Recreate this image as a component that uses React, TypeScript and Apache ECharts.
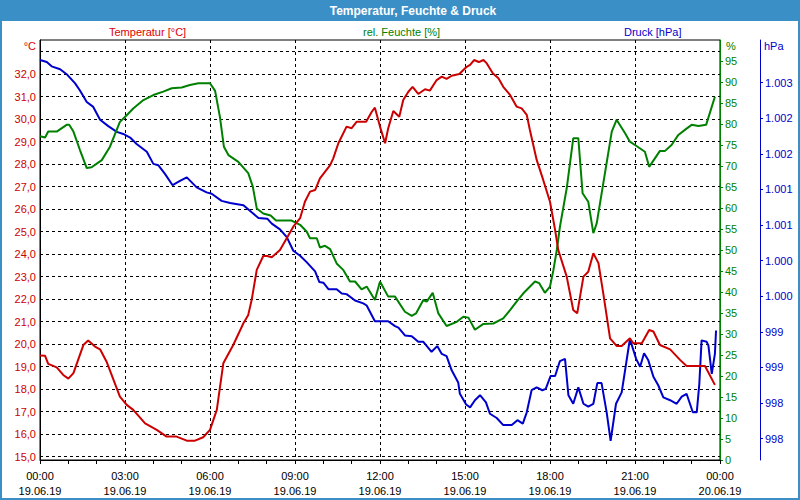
import React, { useEffect, useRef } from "react";
import * as echarts from "echarts";

// Time in hours since 19.06.19 00:00
const tempTimes = [0, 0.18, 0.29, 0.59, 0.82, 1.0, 1.18, 1.53, 1.7, 1.94, 2.12, 2.35, 2.82, 3.06, 3.29, 3.71, 4.12, 4.47, 4.82, 5.18, 5.47, 5.76, 6.0, 6.24, 6.47, 6.82, 7.18, 7.35, 7.47, 7.65, 7.88, 8.02, 8.18, 8.47, 8.94, 9.18, 9.35, 9.53, 9.71, 9.88, 10.24, 10.35, 10.53, 10.82, 11.0, 11.18, 11.51, 11.71, 11.82, 12.0, 12.18, 12.29, 12.47, 12.68, 12.82, 13.0, 13.15, 13.35, 13.59, 13.76, 14.0, 14.18, 14.35, 14.53, 14.8, 15.06, 15.18, 15.32, 15.49, 15.65, 15.77, 15.98, 16.18, 16.35, 16.59, 16.82, 17.0, 17.18, 17.29, 17.53, 17.76, 18.0, 18.18, 18.29, 18.59, 18.82, 18.96, 19.18, 19.35, 19.53, 19.71, 19.88, 20.12, 20.35, 20.53, 20.82, 20.94, 21.24, 21.5, 21.65, 21.88, 22.24, 22.59, 22.82, 23.47, 23.82];
const tempValues = [19.5, 19.48, 19.12, 18.97, 18.63, 18.47, 18.71, 19.96, 20.16, 19.89, 19.77, 19.22, 17.67, 17.3, 17.08, 16.48, 16.19, 15.89, 15.89, 15.71, 15.71, 15.86, 16.19, 17.08, 19.15, 19.96, 20.93, 21.3, 21.96, 23.3, 23.92, 23.92, 23.86, 24.19, 25.22, 25.6, 26.33, 26.78, 26.85, 27.37, 27.96, 28.26, 28.93, 29.67, 29.6, 29.89, 29.89, 30.33, 30.51, 29.67, 28.93, 29.6, 30.36, 30.11, 30.85, 31.22, 31.44, 31.12, 31.33, 31.27, 31.74, 31.89, 31.79, 31.93, 32.01, 32.33, 32.41, 32.63, 32.54, 32.63, 32.48, 32.04, 31.82, 31.44, 31.08, 30.56, 30.48, 30.19, 29.52, 28.19, 27.3, 26.33, 25.08, 24.19, 23.0, 21.52, 21.37, 23.0, 23.22, 24.04, 23.6, 22.26, 20.26, 19.92, 19.92, 20.26, 20.04, 20.04, 20.63, 20.56, 19.96, 19.77, 19.3, 19.03, 19.03, 18.19];

const humTimes = [0, 0.18, 0.29, 0.59, 0.94, 1.03, 1.18, 1.41, 1.65, 1.82, 2.18, 2.47, 2.82, 3.06, 3.29, 3.65, 4.0, 4.35, 4.65, 5.0, 5.29, 5.59, 6.0, 6.18, 6.35, 6.49, 6.65, 7.0, 7.35, 7.51, 7.65, 7.88, 8.14, 8.33, 8.88, 9.18, 9.41, 9.53, 9.77, 9.88, 10.06, 10.24, 10.47, 10.71, 10.94, 11.12, 11.35, 11.53, 11.82, 12.0, 12.29, 12.53, 12.88, 13.12, 13.27, 13.53, 13.65, 13.86, 14.06, 14.35, 14.71, 14.94, 15.12, 15.35, 15.65, 16.0, 16.35, 16.59, 16.82, 17.06, 17.47, 17.62, 17.82, 18.0, 18.12, 18.24, 18.35, 18.59, 18.82, 19.0, 19.15, 19.35, 19.53, 19.65, 20.18, 20.35, 20.65, 20.82, 21.0, 21.35, 21.5, 21.88, 22.06, 22.29, 22.53, 22.76, 23.0, 23.24, 23.51, 23.82];
const humValues = [77.1, 76.8, 78.2, 78.2, 79.8, 79.8, 78.2, 73.8, 69.5, 69.7, 71.4, 74.6, 80.5, 82.1, 83.7, 85.7, 86.9, 87.7, 88.5, 88.7, 89.3, 89.7, 89.7, 87.9, 81.7, 74.6, 72.6, 71.0, 68.3, 65.1, 59.9, 58.7, 58.2, 57.0, 57.0, 56.0, 54.4, 52.8, 52.8, 50.6, 51.0, 50.2, 46.8, 45.2, 42.5, 42.5, 40.6, 41.3, 38.1, 42.5, 38.9, 38.9, 35.3, 34.3, 34.9, 38.1, 37.7, 39.8, 34.9, 31.9, 32.9, 34.1, 33.9, 31.0, 32.4, 32.5, 33.7, 35.7, 37.7, 39.7, 42.5, 42.1, 39.8, 41.3, 45.2, 50.0, 55.5, 64.7, 76.6, 76.6, 63.5, 61.5, 54.0, 56.4, 78.2, 81.0, 77.8, 75.8, 75.0, 73.4, 69.8, 73.6, 73.6, 75.0, 77.4, 78.6, 79.8, 79.5, 79.8, 86.5];

const presTimes = [0, 0.24, 0.41, 0.71, 0.94, 1.24, 1.41, 1.65, 1.88, 2.12, 2.41, 2.71, 2.94, 3.18, 3.41, 3.77, 4.0, 4.18, 4.41, 4.68, 4.94, 5.18, 5.53, 5.88, 6.06, 6.41, 6.71, 7.18, 7.47, 7.71, 8.02, 8.18, 8.47, 8.71, 8.94, 9.18, 9.41, 9.71, 9.86, 10.0, 10.18, 10.47, 10.65, 10.82, 11.12, 11.41, 11.53, 11.82, 12.29, 12.53, 12.65, 12.88, 13.12, 13.35, 13.53, 13.82, 14.02, 14.18, 14.35, 14.53, 14.76, 14.82, 15.04, 15.18, 15.35, 15.53, 15.74, 15.88, 16.12, 16.35, 16.65, 16.85, 17.04, 17.18, 17.35, 17.53, 17.73, 17.85, 18.02, 18.18, 18.35, 18.53, 18.65, 18.82, 19.0, 19.18, 19.35, 19.53, 19.67, 19.82, 20.0, 20.14, 20.33, 20.53, 20.82, 21.04, 21.18, 21.32, 21.47, 21.65, 21.82, 22.0, 22.24, 22.47, 22.65, 22.82, 23.04, 23.18, 23.27, 23.35, 23.53, 23.59, 23.71, 23.82, 23.86];
const presValues = [1003.32, 1003.29, 1003.23, 1003.19, 1003.12, 1002.99, 1002.89, 1002.73, 1002.66, 1002.48, 1002.39, 1002.31, 1002.28, 1002.23, 1002.14, 1002.03, 1001.86, 1001.84, 1001.72, 1001.56, 1001.62, 1001.67, 1001.53, 1001.46, 1001.44, 1001.34, 1001.31, 1001.28, 1001.18, 1001.1, 1001.09, 1001.02, 1000.94, 1000.83, 1000.64, 1000.57, 1000.48, 1000.35, 1000.2, 1000.19, 1000.1, 1000.1, 1000.04, 1000.03, 999.94, 999.9, 999.87, 999.65, 999.65, 999.58, 999.56, 999.45, 999.44, 999.36, 999.36, 999.22, 999.3, 999.19, 999.16, 998.96, 998.79, 998.63, 998.48, 998.44, 998.54, 998.61, 998.51, 998.35, 998.29, 998.19, 998.19, 998.26, 998.21, 998.37, 998.68, 998.72, 998.68, 998.7, 998.88, 998.88, 999.09, 999.12, 998.61, 998.49, 998.72, 998.49, 998.45, 998.49, 998.78, 998.78, 998.37, 997.97, 998.49, 998.65, 999.4, 999.12, 999.01, 999.2, 999.1, 998.87, 998.75, 998.58, 998.54, 998.49, 998.59, 998.63, 998.37, 998.37, 998.77, 999.38, 999.36, 999.31, 998.91, 999.19, 999.52];

const tempTicks = [15, 16, 17, 18, 19, 20, 21, 22, 23, 24, 25, 26, 27, 28, 29, 30, 31, 32, 33];
const tempLabels = [15, 16, 17, 18, 19, 20, 21, 22, 23, 24, 25, 26, 27, 28, 29, 30, 31, 32];
const presTicks = [998, 998.5, 999, 999.5, 1000, 1000.5, 1001, 1001.5, 1002, 1002.5, 1003];

const titleText = "Temperatur, Feuchte & Druck";
const tempName = "Temperatur [°C]";
const humName = "rel. Feuchte [%]";
const presName = "Druck [hPa]";

const RED = "#cc0000";
const GREEN = "#008000";
const BLUE = "#0000cc";
const FRAME = "#3b8fc7";
const FONT = "Liberation Sans";

const zip = (t: number[], v: number[]) => t.map((x, i) => [x, v[i]]);

export default function App() {
  const ref = useRef<HTMLDivElement>(null);
  useEffect(() => {
    const chart = echarts.init(ref.current!, null, { renderer: "svg" });
    const dashed = { color: "#000", width: 1, type: [3, 3] as number[] };
    chart.setOption({
      animation: false,
      backgroundColor: "#fff",
      textStyle: { fontFamily: FONT },
      grid: {
        left: 40, right: 80, top: 40, bottom: 40,
        show: true, borderColor: "#000", borderWidth: 1, backgroundColor: "transparent",
      },
      xAxis: {
        type: "value", min: 0, max: 24, interval: 3,
        axisLine: { show: true, onZero: false, lineStyle: { color: "#000", width: 1 } },
        axisTick: { show: true, length: 4, lineStyle: { color: "#000" } },
        minorTick: { show: true, splitNumber: 3, length: 4, lineStyle: { color: "#000" } },
        splitLine: { show: true, lineStyle: dashed },
        axisLabel: {
          margin: 8, color: "#000", fontSize: 11, fontFamily: FONT, lineHeight: 15,
          showMinLabel: true, showMaxLabel: true,
          formatter: (v: number) => {
            const hh = String(v % 24).padStart(2, "0");
            return `${hh}:00\n${v >= 24 ? "20.06.19" : "19.06.19"}`;
          },
        },
      },
      yAxis: [
        {
          type: "value", position: "left", min: 14.85, max: 33.52,
          axisLine: { show: true, lineStyle: { color: "#000" } },
          axisTick: { show: false, customValues: tempTicks },
          splitLine: { show: true, lineStyle: dashed },
          axisLabel: {
            customValues: tempLabels, margin: 4, color: RED, fontSize: 11, fontFamily: FONT,
            formatter: (v: number) => v.toFixed(1).replace(".", ","),
          },
        },
        {
          type: "value", position: "right", min: 0, max: 100, interval: 5,
          axisLine: { show: true, lineStyle: { color: GREEN } },
          axisTick: { show: true, length: 3, lineStyle: { color: GREEN } },
          splitLine: { show: false },
          axisLabel: {
            margin: 5, color: GREEN, fontSize: 11, fontFamily: FONT, showMaxLabel: false,
            formatter: (v: number) => (v >= 100 ? "" : String(v)),
          },
        },
        {
          type: "value", position: "right", offset: 40, min: 997.7, max: 1003.6,
          axisLine: { show: true, lineStyle: { color: BLUE } },
          axisTick: { show: true, length: 3, customValues: presTicks, lineStyle: { color: BLUE } },
          splitLine: { show: false },
          axisLabel: {
            customValues: presTicks, margin: 5, color: BLUE, fontSize: 11, fontFamily: FONT,
            formatter: (v: number) => {
              const n = Math.floor(v + 1e-9);
              return n >= 1000 ? `${Math.floor(n / 1000)}.${String(n % 1000).padStart(3, "0")}` : String(n);
            },
          },
        },
      ],
      series: [
        {
          name: presName, type: "line", yAxisIndex: 2, data: zip(presTimes, presValues),
          showSymbol: false, clip: false, lineStyle: { color: BLUE, width: 2 }, itemStyle: { color: BLUE },
        },
        {
          name: humName, type: "line", yAxisIndex: 1, data: zip(humTimes, humValues),
          showSymbol: false, clip: false, lineStyle: { color: GREEN, width: 2 }, itemStyle: { color: GREEN },
        },
        {
          name: tempName, type: "line", yAxisIndex: 0, data: zip(tempTimes, tempValues),
          showSymbol: false, clip: false, lineStyle: { color: RED, width: 2 }, itemStyle: { color: RED },
        },
      ],
      graphic: [
        { type: "rect", shape: { x: 0, y: 0, width: 800, height: 21 }, style: { fill: FRAME }, silent: true },
        { type: "rect", shape: { x: 1, y: 1, width: 798, height: 498 }, style: { fill: "none", stroke: FRAME, lineWidth: 2 }, silent: true },
        { type: "text", x: 413, y: 11, style: { text: titleText, fill: "#fff", font: `bold 12px "${FONT}"`, align: "center", verticalAlign: "middle" } },
        { type: "text", x: 109, y: 32, style: { text: tempName, fill: "#dd0000", font: `11px "${FONT}"`, align: "left", verticalAlign: "middle" } },
        { type: "text", x: 363, y: 32, style: { text: humName, fill: GREEN, font: `11px "${FONT}"`, align: "left", verticalAlign: "middle" } },
        { type: "text", x: 624, y: 32, style: { text: presName, fill: BLUE, font: `11px "${FONT}"`, align: "left", verticalAlign: "middle" } },
        { type: "text", x: 36, y: 46, style: { text: "°C", fill: "#dd0000", font: `11px "${FONT}"`, align: "right", verticalAlign: "middle" } },
        { type: "text", x: 726, y: 46, style: { text: "%", fill: GREEN, font: `11px "${FONT}"`, align: "left", verticalAlign: "middle" } },
        { type: "text", x: 764, y: 46, style: { text: "hPa", fill: BLUE, font: `11px "${FONT}"`, align: "left", verticalAlign: "middle" } },
      ],
    });
    return () => chart.dispose();
  }, []);
  return (
    <div
      ref={ref}
      style={{ position: "fixed", left: 0, top: 0, width: "800px", height: "500px", background: "#fff" }}
    />
  );
}
